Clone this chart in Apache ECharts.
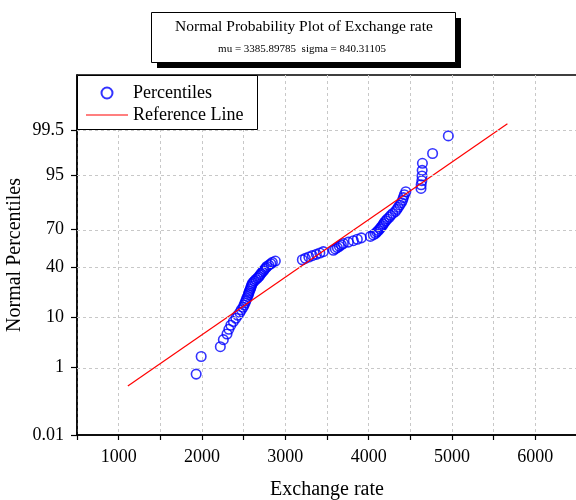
<!DOCTYPE html>
<html>
<head>
<meta charset="utf-8">
<script src="https://cdn.jsdelivr.net/npm/echarts@6/dist/echarts.min.js"></script>
<style>html,body{margin:0;padding:0;background:#fff}#chart{width:576px;height:500px}</style>
</head>
<body>
<div id="chart"></div>
<script>
const exchangeRate = [
  1930, 1990, 2220, 2256, 2300, 2322, 2346, 2376, 2406, 2430,
  2454, 2472, 2493, 2505, 2517, 2527, 2536, 2547, 2556, 2563,
  2569, 2580, 2586, 2593, 2600, 2610, 2628, 2646, 2667, 2683,
  2697, 2707, 2724, 2738, 2750, 2767, 2778, 2802, 2826, 2844,
  2880, 3204, 3240, 3282, 3324, 3372, 3414, 3456, 3576, 3600,
  3624, 3648, 3672, 3696, 3756, 3816, 3864, 3912, 4020, 4056,
  4080, 4098, 4116, 4134, 4146, 4164, 4176, 4188, 4206, 4224,
  4248, 4266, 4290, 4320, 4338, 4356, 4374, 4392, 4407, 4416,
  4428, 4446, 4628, 4630, 4638, 4640, 4642, 4645, 4767, 4956
];
const percentTicks = [0.01, 1, 10, 40, 70, 95, 99.5];
const xTickLabels = [1000, 2000, 3000, 4000, 5000, 6000];
const mu = 3385.89785;
const sigma = 840.31105;
const refLineX = [1110, 5665];

// inverse standard normal CDF (Acklam)
function invNorm(p) {
  const a = [-3.969683028665376e+01, 2.209460984245205e+02, -2.759285104469687e+02, 1.383577518672690e+02, -3.066479806614716e+01, 2.506628277459239e+00];
  const b = [-5.447609879822406e+01, 1.615858368580409e+02, -1.556989798598866e+02, 6.680131188771972e+01, -1.328068155288572e+01];
  const c = [-7.784894002430293e-03, -3.223964580411365e-01, -2.400758277161838e+00, -2.549732539343734e+00, 4.374664141464968e+00, 2.938163982698783e+00];
  const d = [7.784695709041462e-03, 3.224671290700398e-01, 2.445134137142996e+00, 3.754408661907416e+00];
  const pl = 0.02425, ph = 1 - pl;
  let q, r;
  if (p < pl) {
    q = Math.sqrt(-2 * Math.log(p));
    return (((((c[0]*q+c[1])*q+c[2])*q+c[3])*q+c[4])*q+c[5]) / ((((d[0]*q+d[1])*q+d[2])*q+d[3])*q+1);
  } else if (p <= ph) {
    q = p - 0.5; r = q * q;
    return (((((a[0]*r+a[1])*r+a[2])*r+a[3])*r+a[4])*r+a[5])*q / (((((b[0]*r+b[1])*r+b[2])*r+b[3])*r+b[4])*r+1);
  } else {
    q = Math.sqrt(-2 * Math.log(1 - p));
    return -(((((c[0]*q+c[1])*q+c[2])*q+c[3])*q+c[4])*q+c[5]) / ((((d[0]*q+d[1])*q+d[2])*q+d[3])*q+1);
  }
}

const n = exchangeRate.length;
// Normal probability plot: Blom plotting positions of the ranked data
const pointData = exchangeRate.map((v, i) => [v, invNorm((i + 1 - 0.375) / (n + 0.25))]);
const refData = refLineX.map(x => [x, (x - mu) / sigma]);
const tickZ = percentTicks.map(p => invNorm(p / 100));
const zLabel = {};
percentTicks.forEach((p, i) => { zLabel[tickZ[i].toFixed(6)] = String(p); });

const FONT = '"Liberation Serif", "Times New Roman", serif';
const chart = echarts.init(document.getElementById('chart'), null, {renderer: 'canvas'});
chart.setOption({
  animation: false,
  backgroundColor: '#fff',
  grid: {left: 77, top: 75, width: 500, bottom: 65, containLabel: false, outerBoundsMode: 'none',
    show: true, borderColor: '#000', borderWidth: 1.5, backgroundColor: 'transparent'},
  xAxis: {
    type: 'value', min: 500, max: 6500, interval: 500,
    name: 'Exchange rate', nameLocation: 'middle', nameGap: 45, nameMoveOverlap: false,
    nameTextStyle: {fontFamily: FONT, fontSize: 20, color: '#000'},
    axisLine: {show: true, onZero: false, lineStyle: {color: '#000', width: 1.5}},
    axisTick: {show: true, inside: false, length: 5, lineStyle: {color: '#000', width: 1.2}},
    axisLabel: {fontFamily: FONT, fontSize: 18, color: '#000', margin: 13,
      formatter: v => (xTickLabels.indexOf(v) >= 0 ? String(v) : '')},
    splitLine: {show: true, lineStyle: {color: '#c8c8c8', type: [3, 3], width: 1}}
  },
  yAxis: {
    type: 'value', min: invNorm(0.0001), max: invNorm(0.9999),
    name: 'Normal Percentiles', nameLocation: 'middle', nameGap: 52, nameRotate: 90, nameMoveOverlap: false,
    nameTextStyle: {fontFamily: FONT, fontSize: 20, color: '#000'},
    axisLine: {show: true, onZero: false, lineStyle: {color: '#000', width: 1.5}},
    axisTick: {show: true, inside: false, length: 6, customValues: tickZ, lineStyle: {color: '#000', width: 1.2}},
    axisLabel: {fontFamily: FONT, fontSize: 18, color: '#000', margin: 13, customValues: tickZ,
      formatter: v => { const k = Number(v).toFixed(6); return zLabel[k] !== undefined ? zLabel[k] : ''; }},
    splitLine: {show: false}
  },
  legend: {
    orient: 'vertical', left: 81, top: 79, itemWidth: 42, itemHeight: 11, itemGap: 4,
    textStyle: {fontFamily: FONT, fontSize: 18, color: '#000'},
    data: [
      {name: 'Percentiles'},
      {name: 'Reference Line', icon: 'path://M0,0 L42,0 L42,1.2 L0,1.2 Z'}
    ], z: 20
  },
  graphic: [
    {type: 'rect', z: 10, shape: {x: 157, y: 18, width: 304, height: 50}, style: {fill: '#000'}},
    {type: 'rect', z: 11, shape: {x: 151.5, y: 12.5, width: 304, height: 50}, style: {fill: '#fff', stroke: '#000', lineWidth: 1}},
    {type: 'text', z: 12, x: 304, y: 27, style: {text: 'Normal Probability Plot of Exchange rate', font: '15.5px ' + FONT, fill: '#000', align: 'center', verticalAlign: 'middle'}},
    {type: 'text', z: 12, x: 302, y: 49, style: {text: 'mu = 3385.89785  sigma = 840.31105', font: '11px ' + FONT, fill: '#000', align: 'center', verticalAlign: 'middle'}},
    {type: 'rect', z: 9, shape: {x: 77.5, y: 75.5, width: 180, height: 54}, style: {fill: '#fff', stroke: '#000', lineWidth: 1}}
  ],
  series: [
    {
      type: 'scatter', name: 'gridlines', data: [], silent: true, z: 1,
      markLine: {
        silent: true, symbol: 'none', label: {show: false},
        lineStyle: {color: '#c8c8c8', type: [3, 3], width: 1},
        data: tickZ.slice(1).map(z => ({yAxis: z}))
      }
    },
    {
      type: 'scatter', name: 'Percentiles', data: pointData, z: 3,
      symbol: 'circle', symbolSize: 9.5,
      itemStyle: {color: 'rgba(0,0,0,0)', borderColor: '#0000ff', borderWidth: 1.6}
    },
    {
      type: 'line', name: 'Reference Line', data: refData, z: 4,
      symbol: 'none', lineStyle: {color: '#ff0000', width: 1.2}, itemStyle: {color: '#ff0000'}
    }
  ]
});
</script>
</body>
</html>
